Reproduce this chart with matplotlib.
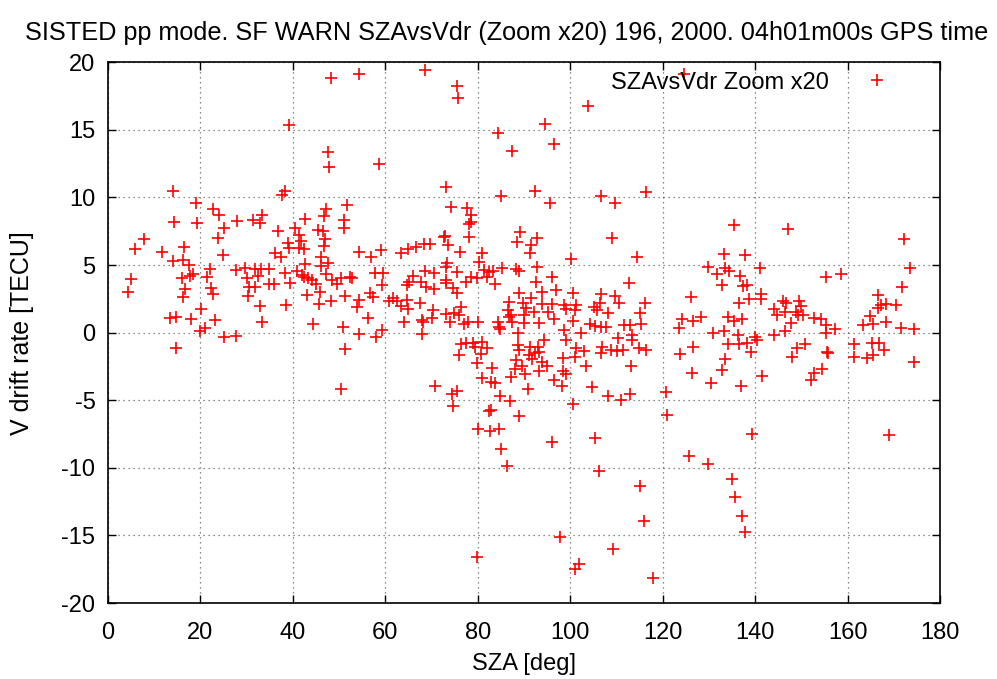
#!/usr/bin/env python3
"""
SZA vs V drift rate scatter (gnuplot-like look)
"""

import matplotlib.pyplot as plt

plt.rcParams["font.family"] = ["Liberation Sans", "DejaVu Sans"]
plt.rcParams["axes.unicode_minus"] = False

title = "SISTED pp mode. SF WARN SZAvsVdr (Zoom x20) 196, 2000. 04h01m00s GPS time"
series_label = "SZAvsVdr Zoom x20"

x_ticks = [0, 20, 40, 60, 80, 100, 120, 140, 160, 180]
y_ticks = [-20, -15, -10, -5, 0, 5, 10, 15, 20]

# solar zenith angle [deg] and vertical drift rate [TECU]
sza = [
    # high values
    48.2, 54.4, 39.1, 47.5, 47.9, 58.7, 14.1, 38.4, 37.7,
    68.6, 75.5, 75.7, 103.8, 94.6, 84.3, 96.6, 87.5, 73.1, 92.3, 116.4, 85.0, 106.6,
    124.7,
    # 0-60 deg, 0..10
    19.1, 22.8, 24.0, 14.2, 19.3, 28.0, 31.4, 33.4, 32.9, 25.1, 7.9, 23.7, 16.5, 5.8,
    11.7, 24.8, 14.0, 16.3, 17.5, 22.0, 21.5, 18.5, 17.7, 16.0, 4.9, 4.3, 16.6, 16.2,
    22.2, 22.7, 20.2, 13.4, 14.8, 18.0, 23.2, 20.9, 19.9, 27.7, 29.6, 31.8, 33.2, 34.8,
    32.5, 30.0, 30.6, 31.8, 30.2, 32.9, 33.4, 34.8, 36.0, 36.7, 36.1, 37.5, 38.3, 39.4,
    38.6, 40.4, 41.3, 41.7, 41.4, 39.0, 39.2, 42.6, 42.5, 47.1, 46.8, 51.7, 51.0, 51.0,
    45.5, 46.6, 46.9, 46.8, 46.0, 47.7, 42.6, 46.1, 40.8, 41.9, 42.5, 43.3, 44.2, 45.1,
    45.8, 47.1, 43.0, 45.7, 48.4, 49.6, 50.5, 52.3, 52.9, 48.2, 51.3, 54.3, 57.0, 59.1,
    57.8, 59.6, 59.2, 56.7, 57.4, 54.3, 53.8, 60.9, 56.3, 59.2, 50.8, 44.3,
    # 60-120 deg, 0..10
    95.7, 109.7, 74.3, 77.6, 78.5, 78.6, 78.0, 72.9, 72.7, 78.0, 89.1, 92.8, 88.4, 91.5,
    91.3, 109.0, 73.6, 69.7, 68.4, 66.6, 64.9, 63.3, 76.2, 80.9, 80.3, 100.1, 114.4, 73.4,
    73.2, 75.6, 81.4, 82.4, 83.2, 82.1, 85.2, 88.2, 88.9, 92.9, 78.6, 79.9, 77.4, 83.7,
    65.9, 65.1, 64.6, 68.5, 70.5, 67.8, 68.7, 70.5, 73.1, 73.2, 74.6, 75.6, 92.7, 96.0,
    96.9, 93.9, 88.9, 91.6, 100.6, 106.6, 109.7, 112.8, 61.7, 62.6, 64.8, 63.3, 64.9, 67.6,
    70.3, 76.3, 86.8, 89.8, 93.8, 96.0, 98.7, 99.2, 101.2, 101.1, 106.4, 105.2, 105.9, 110.6,
    116.2, 115.1, 108.1, 86.6, 87.1, 86.8, 90.4, 92.2, 95.1, 90.0, 87.5, 90.0, 93.3, 96.5,
    100.5, 73.1, 74.9, 75.9, 70.2, 67.9, 68.2, 64.0, 74.1, 77.0, 77.8, 80.1, 84.3, 84.5,
    84.8, 98.7, 104.3, 105.4, 106.6, 107.7, 111.7, 112.9, 115.3,
    # 120-180 deg, 0..10
    135.4, 147.2, 172.2, 133.2, 137.9, 129.9, 133.4, 134.3, 131.7, 136.7, 132.8, 137.3,
    138.2, 141.1, 155.4, 158.6, 173.6, 171.8, 126.1, 138.6, 136.5, 141.3, 141.3, 146.0,
    146.7, 144.2, 144.7, 146.4, 148.9, 149.6, 150.0, 149.2, 150.3, 147.8, 152.8, 154.3,
    155.4, 157.2, 166.6, 166.6, 167.3, 168.4, 170.5, 164.8, 163.3, 165.5, 168.4, 171.5,
    174.3, 124.1, 126.6, 128.4, 134.1, 135.5, 137.1, 133.2, 123.6, 146.4,
    # 0-60 deg, below 0
    14.8, 25.1, 27.7, 51.3, 50.4, 54.4, 58.0,
    # 60-120 deg, below 0
    67.9, 76.3, 77.5, 79.0, 79.4, 81.0, 82.1, 80.6, 75.9, 79.8, 83.0, 81.0, 82.8, 83.8,
    70.7, 75.6, 74.5, 74.7, 84.8, 86.9, 82.5, 82.8, 88.9, 80.1, 82.7, 84.6, 85.0, 86.3,
    88.8, 88.8, 89.0, 91.3, 93.1, 93.3, 92.4, 91.1, 91.7, 94.4, 94.0, 94.9, 88.2, 89.5,
    88.1, 93.3, 90.2, 87.1, 96.4, 98.5, 99.2, 98.3, 90.8, 98.5, 99.2, 101.2, 101.1, 103.0,
    103.4, 104.8, 108.1, 111.0, 112.9, 100.7, 106.9, 106.6, 108.8, 110.2, 111.5, 114.9,
    116.5, 113.1, 110.4, 113.3, 113.3, 102.3, 120.7, 120.9, 96.0, 105.3,
    # 120-180 deg, below 0
    130.8, 136.4, 139.9, 140.4, 144.2, 155.4, 126.6, 123.8, 134.2, 136.5, 138.2, 139.1,
    133.5, 132.8, 126.3, 130.5, 137.0, 141.5, 149.0, 150.8, 148.0, 155.5, 155.8, 152.7,
    152.1, 154.5, 161.4, 161.4, 164.2, 165.3, 166.8, 165.5, 167.9, 174.3, 139.3, 169.0,
    125.6, 129.9,
    # low values
    106.3, 115.1, 115.9, 97.8, 109.3, 79.8, 101.8, 101.1, 118.0,
    134.9, 135.7, 137.1, 137.8,
]

vdr = [
    # high values
    18.87, 19.14, 15.37, 13.38, 12.27, 12.5, 10.5, 10.5, 10.2,
    19.41, 18.27, 17.32, 16.77, 15.44, 14.8, 13.97, 13.4, 10.74, 10.5, 10.4, 10.1, 10.1,
    19.1,
    # 0-60 deg, 0..10
    9.56, 9.16, 8.7, 8.18, 8.13, 8.23, 8.33, 8.67, 8.13, 7.71, 6.90, 6.97, 6.31, 6.18,
    5.94, 5.77, 5.32, 5.37, 5.0, 4.71, 4.14, 4.34, 4.19, 4.04, 3.95, 3.03, 3.23, 2.62,
    3.33, 2.84, 1.78, 1.09, 1.19, 1.04, 0.94, 0.33, 0.15, 4.63, 4.81, 4.68, 4.68, 4.68,
    4.22, 4.02, 3.35, 3.4, 2.74, 2.0, 0.77, 3.6, 3.6, 7.51, 5.86, 5.57, 4.44, 3.7,
    2.05, 7.71, 7.22, 6.78, 6.28, 6.6, 6.23, 8.38, 6.16, 9.14, 8.62, 9.41, 8.33, 7.74,
    7.59, 7.49, 6.9, 6.43, 5.62, 5.13, 5.05, 4.95, 4.58, 4.24, 4.14, 4.07, 3.9, 3.6,
    3.03, 4.34, 2.76, 2.1, 3.9, 3.6, 4.02, 4.14, 4.07, 2.37, 2.71, 5.99, 5.62, 6.11,
    4.44, 4.39, 3.5, 2.91, 2.66, 2.42, 1.93, 2.34, 1.06, 0.2, 0.45, 0.65,
    # 60-120 deg, 0..10
    9.56, 9.6, 9.31, 9.19, 8.7, 8.2, 8.03, 7.17, 7.05, 7.05, 7.42, 7.02, 6.68, 6.48,
    5.91, 6.97, 6.48, 6.55, 6.55, 6.36, 6.18, 5.86, 5.94, 5.91, 5.25, 5.45, 5.62, 5.18,
    4.83, 4.51, 4.63, 4.51, 4.58, 4.14, 4.76, 4.71, 4.56, 4.83, 4.14, 4.07, 3.77, 3.6,
    4.19, 3.72, 3.53, 4.58, 4.39, 3.77, 3.4, 3.23, 3.9, 3.7, 3.28, 2.96, 3.77, 4.14,
    3.16, 3.03, 2.96, 2.54, 2.91, 2.86, 2.74, 3.65, 2.54, 2.37, 2.42, 1.98, 1.73, 2.17,
    1.68, 1.93, 2.25, 2.22, 2.12, 2.12, 2.05, 1.73, 2.05, 1.68, 2.22, 1.93, 1.68, 2.17,
    2.17, 1.48, 1.48, 1.68, 1.31, 1.14, 1.8, 1.56, 1.56, 1.31, 0.82, 0.74, 0.7, 0.99,
    0.89, 1.38, 1.43, 1.31, 1.06, 0.94, 0.82, 0.77, 0.77, 0.62, 0.82, 0.82, 0.82, 0.45,
    0.25, 0.2, 0.65, 0.5, 0.4, 0.4, 0.57, 0.57, 0.62,
    # 120-180 deg, 0..10
    7.96, 7.64, 6.9, 5.82, 5.74, 4.88, 4.76, 4.58, 4.31, 4.19, 3.53, 3.45,
    3.53, 4.81, 4.14, 4.34, 4.76, 3.35, 2.66, 2.49, 2.17, 2.86, 2.47, 2.37,
    2.22, 1.73, 1.31, 1.56, 1.56, 2.34, 1.98, 1.31, 1.31, 0.74, 1.11, 0.99,
    0.57, 0.25, 2.79, 1.8, 2.05, 2.12, 2.05, 1.24, 0.57, 0.62, 0.77, 0.37,
    0.28, 0.99, 0.89, 1.14, 1.14, 0.89, 0.99, 0.15, 0.33, 0.13,
    # 0-60 deg, below 0
    -1.15, -0.34, -0.24, -1.2, -4.15, -0.12, -0.34,
    # 60-120 deg, below 0
    -0.12, -0.86, -0.73, -0.78, -1.03, -0.71, -1.15, -1.59, -1.64, -2.26, -2.63, -3.37, -3.66, -3.69,
    -3.98, -4.3, -4.55, -5.41, -4.72, -5.09, -5.78, -5.71, -6.2, -7.13, -7.26, -7.11, -8.59, -9.84,
    -0.04, -0.95, -1.32, -1.03, -1.03, -1.45, -1.52, -1.69, -1.94, -0.54, -2.18, -2.5, -2.01, -2.46,
    -2.68, -2.83, -3.05, -3.29, -3.54, -2.83, -3.07, -3.91, -4.15, -1.84, -0.54, -1.15, -1.77, -1.35,
    -2.5, -4.03, -4.72, -4.97, -4.52, -5.29, -1.03, -1.52, -1.32, -1.35, -1.27, -1.15,
    -1.27, -2.5, -0.41, -0.17, -0.58, -0.04, -4.4, -6.12, -8.09, -7.8,
    # 120-180 deg, below 0
    -0.04, -0.17, -0.29, -0.54, -0.17, 0.0, -1.03, -1.57, -0.86, -0.86, -0.73, -1.4,
    -1.96, -2.75, -3.0, -3.69, -3.91, -3.24, -1.15, -0.86, -1.82, -1.4, -1.52, -3.0,
    -3.49, -2.68, -0.86, -1.82, -1.89, -0.78, -0.78, -1.69, -1.27, -2.14, -7.5, -7.6,
    -9.15, -9.7,
    # low values
    -10.26, -11.32, -13.95, -15.13, -15.99, -16.59, -17.15, -17.52, -18.14,
    -10.83, -12.15, -13.58, -14.74,
]

fig = plt.figure(figsize=(9.97, 6.79), dpi=100)
ax = fig.add_axes([0.1083, 0.1119, 0.8345, 0.7964])

ax.plot(sza, vdr, linestyle="none", marker="+", color="red",
        markersize=8, markeredgewidth=1.2, label=series_label)

ax.set_xlim(0, 180)
ax.set_ylim(-20, 20)
ax.set_xticks(x_ticks)
ax.set_yticks(y_ticks)

# gnuplot style: inward mirrored ticks and dotted grid
ax.tick_params(direction="in", length=6, width=1, top=True, right=True,
               labelsize=17)
ax.tick_params(axis="x", pad=14)
ax.tick_params(axis="y", pad=9)
ax.grid(True, linestyle=(0, (1, 3)), color="black", linewidth=0.9, alpha=0.6)
for s in ax.spines.values():
    s.set_linewidth(1.2)

ax.set_xlabel("SZA [deg]", fontsize=17, labelpad=6)
ax.set_ylabel("V drift rate [TECU]", fontsize=18, labelpad=20)
fig.text(507 / 997, 1 - 33 / 679, title, fontsize=18.2, ha="center", va="center")

ax.legend(loc="upper right", bbox_to_anchor=(0.971, 1.0), frameon=False,
          markerfirst=False, fontsize=17, handlelength=2.5, handletextpad=0.8,
          borderaxespad=0)

plt.savefig("out.png", dpi=100)
plt.close()
